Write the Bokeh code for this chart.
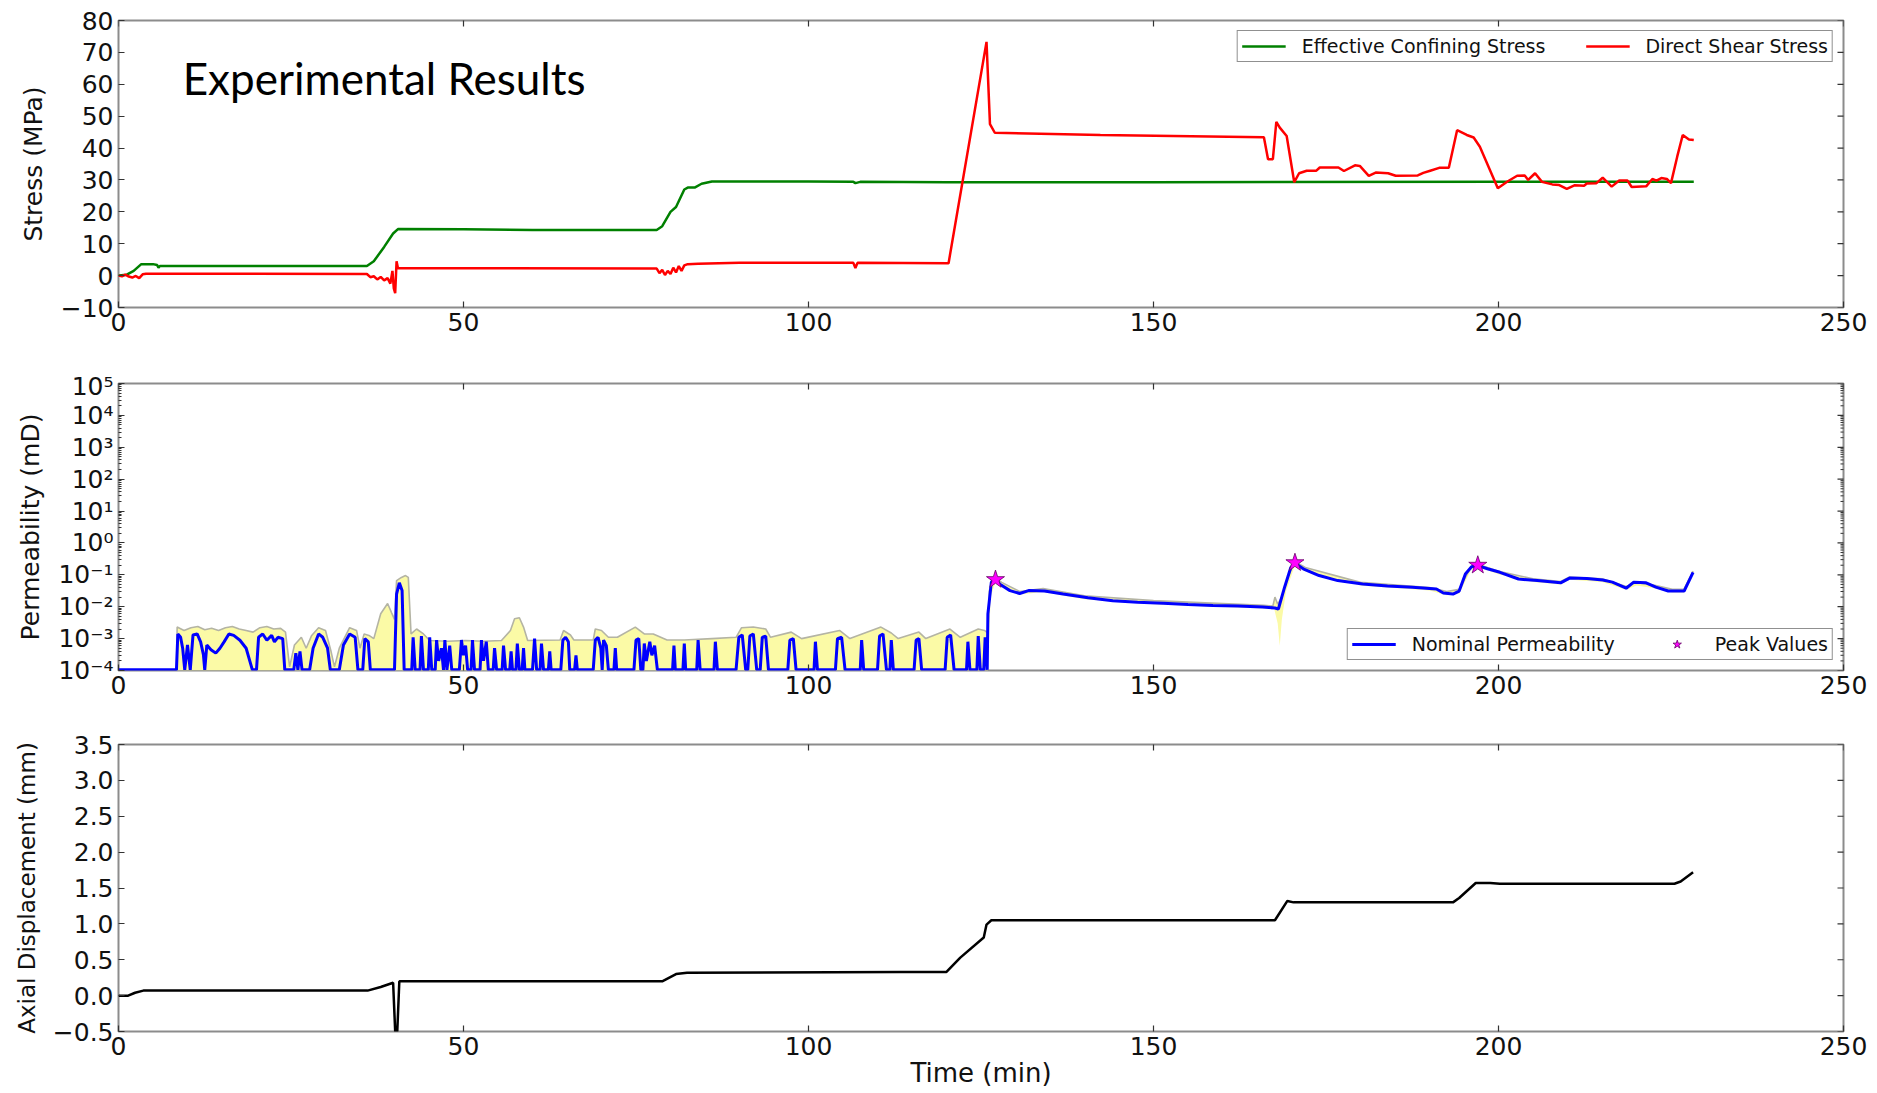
import math
from bokeh.plotting import figure
from bokeh.layouts import column
from bokeh.models import Range1d, Label, FixedTicker, CustomJSTickFormatter
from bokeh.embed import file_html
from bokeh.resources import INLINE

# ---------------- data ----------------
TIME_TICKS = [0, 50, 100, 150, 200, 250]
STRESS_TICKS = [-10, 0, 10, 20, 30, 40, 50, 60, 70, 80]
PERM_TICKS = [1e-4, 1e-3, 1e-2, 1e-1, 1e0, 1e1, 1e2, 1e3, 1e4, 1e5]
DISP_TICKS = [-0.5, 0.0, 0.5, 1.0, 1.5, 2.0, 2.5, 3.0, 3.5]

CONFINING = [(0, 0.0), (1.2, 0.3), (2.2, 1.5), (3.3, 3.6), (5.0, 3.6), (5.6, 3.3), (5.8, 2.5),
             (6.0, 3.0), (36.0, 3.0), (37.0, 4.5), (38.5, 9.0), (39.8, 13.2), (40.5, 14.6),
             (50, 14.5), (60, 14.3), (78.0, 14.3), (78.8, 15.5), (80.0, 20.0), (80.8, 21.5),
             (82.0, 27.0), (82.5, 27.6), (83.5, 27.6), (84.5, 28.8), (86.0, 29.5), (100, 29.5),
             (106.5, 29.4), (106.8, 29.0), (107.5, 29.4), (120, 29.3), (150, 29.3), (200, 29.4),
             (228.3, 29.4)]

SHEAR = [(0, 0.0), (0.5, -0.2), (1.0, 0.3), (1.5, -0.3), (2.0, -0.6), (2.5, -0.1), (3.0, -0.8),
         (3.5, 0.4), (4.0, 0.6), (36.0, 0.5), (36.5, -0.5), (37.0, -0.2), (37.5, -1.2), (38.0, -0.4),
         (38.5, -1.5), (39.0, -0.8), (39.4, -2.5), (39.7, 1.5), (39.9, -4.0), (40.1, -5.5),
         (40.3, 4.5), (40.5, 2.3), (50, 2.3), (78.0, 2.2), (78.4, 0.8), (78.8, 1.8), (79.2, 0.2),
         (79.6, 1.5), (80.0, 0.5), (80.4, 2.5), (80.8, 1.0), (81.2, 3.0), (81.6, 1.5), (82.0, 3.2),
         (82.5, 3.6), (84.0, 3.7), (90, 4.0), (106.5, 4.0), (106.8, 2.4), (107.1, 4.0),
         (120.3, 3.9), (125.8, 73.3), (126.3, 47.5), (127.0, 44.8), (142.3, 44.1), (166.0, 43.4),
         (166.6, 36.5), (167.3, 36.5), (167.8, 48.2), (168.3, 46.4), (169.3, 43.8), (170.4, 29.3),
         (171.1, 32.1), (172.2, 32.9), (173.6, 32.9), (174.1, 33.9), (176.8, 33.9), (177.6, 32.8),
         (179.2, 34.6), (179.9, 34.4), (181.2, 31.3), (182.2, 32.3), (184.0, 32.1), (185.1, 31.3),
         (188.3, 31.4), (189.1, 32.2), (190.1, 32.9), (191.4, 33.8), (192.8, 33.8), (194.0, 45.6),
         (195.4, 44.1), (196.4, 43.3), (197.3, 40.4), (199.9, 27.4), (201.3, 29.5), (202.7, 31.3),
         (203.8, 31.4), (204.3, 30.0), (205.3, 32.1), (206.3, 29.4), (207.8, 28.6), (208.8, 28.4),
         (209.9, 27.2), (211.0, 28.3), (212.4, 28.2), (212.8, 28.9), (214.2, 29.0), (215.1, 30.7),
         (216.4, 27.9), (217.5, 29.8), (218.7, 29.8), (219.3, 27.8), (221.4, 28.0), (222.3, 30.3),
         (222.9, 29.8), (223.6, 30.6), (224.4, 30.3), (225.0, 29.0), (225.9, 37.3), (226.7, 44.1),
         (227.6, 42.7), (228.3, 42.5)]

PERMEABILITY = [
    (0, 1.05e-4), (8.4, 1.05e-4), (8.6, 1.4e-3), (9.0, 1.1e-3), (9.3, 5e-4), (9.6, 1.05e-4),
    (10.0, 6.3e-4), (10.4, 1.05e-4), (10.8, 1.3e-3), (11.4, 1.4e-3), (11.9, 7.9e-4), (12.3, 3.2e-4),
    (12.5, 1.05e-4), (12.8, 6.3e-4), (13.4, 4.5e-4), (14.1, 3.5e-4), (14.7, 5e-4), (15.3, 7.9e-4),
    (16.0, 1.4e-3), (16.7, 1.26e-3), (17.6, 8.9e-4), (18.5, 5e-4), (18.9, 2.5e-4), (19.4, 1.05e-4),
    (20.0, 1.05e-4), (20.3, 1.1e-3), (20.9, 1.4e-3), (21.5, 8.9e-4), (22.2, 1.26e-3), (22.6, 7.9e-4),
    (23.1, 1.1e-3), (23.8, 1.0e-3), (24.1, 1.05e-4), (25.4, 1.05e-4), (25.7, 3.5e-4), (26.0, 1.05e-4),
    (26.3, 4e-4), (26.6, 1.05e-4), (27.7, 1.05e-4), (28.2, 5e-4), (29.0, 1.4e-3), (29.6, 1.1e-3),
    (30.3, 5e-4), (30.7, 1.05e-4), (32.0, 1.05e-4), (32.6, 6.3e-4), (33.5, 1.4e-3), (34.3, 1.1e-3),
    (34.7, 1.05e-4), (35.4, 1.05e-4), (35.7, 1.0e-3), (36.2, 7.9e-4), (36.5, 1.05e-4), (40.0, 1.05e-4),
    (40.3, 2.5e-2), (40.7, 5.6e-2), (41.1, 3.2e-2), (41.4, 1.05e-4), (42.5, 1.05e-4), (42.7, 1.1e-3),
    (43.0, 1.05e-4), (43.7, 1.05e-4), (43.9, 1.2e-3), (44.2, 1.05e-4), (44.9, 1.05e-4), (45.1, 1.1e-3),
    (45.4, 1.05e-4), (45.9, 1.05e-4), (46.1, 9e-4), (46.4, 2e-4), (46.8, 5e-4), (47.1, 1.05e-4),
    (47.3, 9e-4), (47.6, 1.05e-4), (48.0, 6e-4), (48.3, 1.05e-4), (49.4, 1.05e-4), (49.7, 9e-4),
    (50.0, 3e-4), (50.3, 6e-4), (50.6, 1.05e-4), (51.1, 1.05e-4), (51.3, 9e-4), (51.6, 1.05e-4),
    (52.4, 1.05e-4), (52.6, 9e-4), (52.9, 2e-4), (53.3, 8e-4), (53.6, 1.05e-4), (54.3, 1.05e-4),
    (54.5, 5e-4), (54.8, 1.05e-4), (55.6, 1.05e-4), (55.8, 6e-4), (56.1, 1.05e-4), (56.7, 1.05e-4),
    (56.9, 4e-4), (57.1, 1.05e-4), (57.6, 1.05e-4), (57.8, 7e-4), (58.1, 1.05e-4), (58.5, 1.05e-4),
    (58.7, 5e-4), (58.9, 1.05e-4), (60.0, 1.05e-4), (60.3, 1.0e-3), (60.6, 1.05e-4), (61.1, 1.05e-4),
    (61.3, 7e-4), (61.6, 1.05e-4), (62.3, 1.05e-4), (62.5, 4e-4), (62.7, 1.05e-4), (64.1, 1.05e-4),
    (64.4, 9e-4), (64.8, 1.1e-3), (65.2, 8e-4), (65.4, 1.05e-4), (66.1, 1.05e-4), (66.3, 3e-4),
    (66.5, 1.05e-4), (68.8, 1.05e-4), (69.1, 9e-4), (69.5, 1.1e-3), (69.9, 5e-4), (70.1, 1.05e-4),
    (70.3, 9e-4), (70.7, 6e-4), (71.0, 1.05e-4), (71.8, 1.05e-4), (72.0, 5e-4), (72.2, 1.05e-4),
    (74.7, 1.05e-4), (75.0, 9e-4), (75.4, 1.0e-3), (75.7, 1.05e-4), (76.0, 1.05e-4), (76.2, 7e-4),
    (76.5, 2e-4), (77.0, 8e-4), (77.3, 3e-4), (77.7, 6e-4), (78.1, 1.05e-4), (80.3, 1.05e-4),
    (80.5, 6e-4), (80.7, 1.05e-4), (81.8, 1.05e-4), (82.0, 7e-4), (82.2, 1.05e-4), (83.8, 1.05e-4),
    (84.0, 9e-4), (84.3, 1.05e-4), (86.3, 1.05e-4), (86.5, 8e-4), (86.8, 1.05e-4), (89.5, 1.05e-4),
    (89.9, 1.1e-3), (90.4, 1.3e-3), (90.9, 1.05e-4), (91.2, 1.05e-4), (91.5, 1.2e-3), (92.0, 1.4e-3),
    (92.5, 1.05e-4), (93.0, 1.05e-4), (93.3, 1.1e-3), (93.8, 1.2e-3), (94.2, 1.05e-4), (97.0, 1.05e-4),
    (97.3, 9e-4), (97.8, 1.0e-3), (98.2, 1.05e-4), (100.8, 1.05e-4), (101.0, 8e-4), (101.3, 1.05e-4),
    (103.9, 1.05e-4), (104.2, 1.0e-3), (104.8, 1.1e-3), (105.3, 1.05e-4), (107.5, 1.05e-4),
    (107.7, 9e-4), (108.0, 1.05e-4), (110.0, 1.05e-4), (110.3, 1.2e-3), (110.8, 1.4e-3),
    (111.3, 1.05e-4), (111.8, 1.05e-4), (112.0, 9e-4), (112.3, 1.05e-4), (115.3, 1.05e-4),
    (115.6, 9e-4), (116.0, 1.0e-3), (116.4, 1.05e-4), (119.8, 1.05e-4), (120.1, 1.1e-3),
    (120.6, 1.3e-3), (121.1, 1.05e-4), (122.9, 1.05e-4), (123.1, 8e-4), (123.4, 1.05e-4),
    (124.4, 1.05e-4), (124.6, 1.2e-3), (124.9, 1.05e-4), (125.4, 1.05e-4), (125.6, 1.1e-3),
    (125.9, 1.05e-4), (126.0, 6e-3), (126.5, 0.059), (127.1, 0.071), (127.8, 0.05), (129.2, 0.032),
    (130.6, 0.026), (131.9, 0.032), (134.2, 0.031), (136.9, 0.025), (140.5, 0.019), (144.1, 0.0155),
    (147.7, 0.0138), (151.4, 0.0129), (155.0, 0.0117), (158.6, 0.011), (162.2, 0.0105),
    (165.8, 0.0098), (167.6, 0.0091), (168.1, 0.0085), (169.0, 0.041), (169.9, 0.17), (170.5, 0.23),
    (171.7, 0.155), (174.0, 0.095), (176.7, 0.066), (180.3, 0.052), (183.9, 0.045), (187.5, 0.041),
    (191.0, 0.036), (192.0, 0.027), (193.4, 0.025), (194.3, 0.031), (195.2, 0.107), (196.1, 0.18),
    (197.0, 0.195), (198.4, 0.155), (200.2, 0.12), (202.9, 0.074), (205.6, 0.066), (209.0, 0.056),
    (210.3, 0.079), (212.8, 0.077), (215.1, 0.069), (216.5, 0.059), (218.5, 0.038), (219.6, 0.059),
    (221.4, 0.056), (222.8, 0.041), (224.6, 0.031), (226.9, 0.031), (228.2, 0.12)]

BAND_UPPER = [
    (8.4, 1.0e-4), (8.5, 2.3e-3), (9.5, 1.8e-3), (10.5, 2.2e-3), (11.5, 2.4e-3), (12.5, 1.9e-3),
    (13.5, 2.1e-3), (14.5, 1.8e-3), (15.5, 2.2e-3), (16.5, 2.4e-3), (17.5, 2.0e-3), (18.5, 1.8e-3),
    (19.5, 1.6e-3), (20.5, 2.2e-3), (21.5, 2.4e-3), (22.5, 2.0e-3), (23.5, 2.1e-3), (24.2, 1.6e-3),
    (24.8, 1.3e-4), (25.5, 6.3e-4), (26.5, 1.1e-3), (27.2, 5e-4), (28.0, 1.26e-3), (29.0, 2.2e-3),
    (30.0, 1.8e-3), (30.8, 4e-4), (31.3, 1.3e-4), (32.0, 5e-4), (33.5, 2.2e-3), (34.5, 1.8e-3),
    (35.0, 5e-4), (35.6, 1.4e-3), (36.3, 1.26e-3), (37.0, 1.0e-3), (38.0, 6.0e-3), (39.0, 1.26e-2),
    (39.6, 6.3e-3), (40.0, 4e-3), (40.3, 6.6e-2), (41.0, 8.3e-2), (41.6, 9.5e-2), (42.0, 8.3e-2),
    (42.4, 1.4e-3), (43.2, 2.0e-3), (44.2, 1.4e-3), (45.1, 8.7e-4), (47.7, 8.3e-4), (50.3, 8.7e-4),
    (52.9, 8.3e-4), (55.5, 8.7e-4), (56.8, 1.8e-3), (57.4, 4.2e-3), (58.1, 4.5e-3), (58.7, 2.3e-3),
    (59.3, 8.7e-4), (64.0, 9e-4), (64.5, 1.8e-3), (65.5, 1.3e-3), (66.0, 9e-4), (68.8, 9e-4),
    (69.1, 2.0e-3), (70.0, 1.8e-3), (71.0, 1.1e-3), (72.3, 1.1e-3), (74.9, 2.3e-3), (76.2, 1.4e-3),
    (77.5, 1.4e-3), (79.5, 9e-4), (82.0, 9e-4), (86.0, 1.0e-3), (89.5, 1.1e-3), (90.3, 2.2e-3),
    (92.0, 2.3e-3), (93.8, 2.0e-3), (94.5, 1.1e-3), (97.5, 1.6e-3), (99.0, 1.0e-3), (104.5, 1.8e-3),
    (106.0, 1.0e-3), (110.5, 2.3e-3), (112.0, 1.5e-3), (113.0, 1.0e-3), (116.0, 1.6e-3),
    (117.0, 1.0e-3), (120.5, 2.0e-3), (122.0, 1.1e-3), (124.6, 2.0e-3), (125.5, 1.8e-3),
    (126.0, 1.5e-3), (126.2, 0.03), (126.6, 0.075), (127.1, 0.08), (128.0, 0.058), (130.6, 0.03),
    (134.0, 0.037), (140.0, 0.022), (150.0, 0.0155), (160.0, 0.0125), (166.0, 0.011),
    (167.3, 0.0105), (167.6, 0.02), (168.0, 0.012), (168.6, 0.02), (169.5, 0.09), (170.5, 0.26),
    (172.0, 0.17), (180.0, 0.058), (190.0, 0.04), (192.5, 0.03), (194.3, 0.035), (196.0, 0.18),
    (197.0, 0.215), (200.0, 0.13), (205.0, 0.075), (209.0, 0.062), (210.3, 0.085), (215.0, 0.075),
    (218.5, 0.043), (220.0, 0.058), (222.8, 0.046), (225.2, 0.035), (226.9, 0.036), (228.2, 0.13)]

BAND_LOWER = [
    (8.4, 1.0e-4), (126.0, 1.0e-4), (126.4, 0.02), (127.1, 0.06), (128.0, 0.045), (130.6, 0.024),
    (134.0, 0.029), (140.0, 0.017), (150.0, 0.012), (160.0, 0.0098), (166.0, 0.0088),
    (167.5, 0.0085), (168.0, 0.003), (168.3, 6e-4), (168.6, 0.004), (169.2, 0.03), (170.5, 0.2),
    (172.0, 0.13), (180.0, 0.046), (190.0, 0.032), (192.5, 0.023), (194.3, 0.026), (196.0, 0.14),
    (197.0, 0.18), (200.0, 0.105), (205.0, 0.06), (209.0, 0.05), (210.3, 0.07), (215.0, 0.06),
    (218.5, 0.034), (220.0, 0.046), (222.8, 0.037), (225.2, 0.028), (226.9, 0.028), (228.2, 0.10)]

PEAK_T = [127.1, 170.5, 197.0]
PEAK_K = [0.071, 0.24, 0.20]

DISPLACEMENT = [(0, 0.0), (1.4, 0.0), (2.4, 0.04), (3.6, 0.07), (36.1, 0.07), (38.0, 0.12),
                (39.8, 0.18), (40.1, -0.5), (40.4, -0.5), (40.7, 0.20), (78.8, 0.20), (80.8, 0.30),
                (82.4, 0.32), (113.4, 0.33), (120.0, 0.33), (122.0, 0.53), (125.4, 0.81),
                (125.8, 0.99), (126.5, 1.05), (167.6, 1.05), (169.4, 1.32), (170.3, 1.30),
                (193.4, 1.30), (194.3, 1.36), (196.7, 1.57), (198.8, 1.57), (200.2, 1.56),
                (225.5, 1.56), (226.4, 1.59), (228.2, 1.72)]

# ---------------- styling ----------------
FONT = "DejaVu Sans"
TICK_SIZE = "25px"
FRAME_W = 1725
FRAME_H = 287
TICK_COLOR = "#333333"


def unzip(points):
    return [a for a, _ in points], [b for _, b in points]


def style_axis(ax):
    ax.axis_line_color = None
    ax.major_tick_in = 6
    ax.major_tick_out = 0
    ax.minor_tick_in = 3
    ax.minor_tick_out = 0
    ax.major_tick_line_color = TICK_COLOR
    ax.minor_tick_line_color = TICK_COLOR
    ax.major_tick_line_width = 1.2
    ax.major_label_text_font = FONT
    ax.major_label_text_font_size = TICK_SIZE
    ax.major_label_text_color = "#111111"
    ax.major_label_standoff = 5
    ax.axis_label_text_font = FONT
    ax.axis_label_text_font_size = "25px"
    ax.axis_label_text_font_style = "normal"
    ax.axis_label_text_color = "#111111"
    ax.axis_label_standoff = 10


def fmt(decimals):
    return CustomJSTickFormatter(code="""
        const s = Math.abs(tick).toFixed(%d);
        return (tick < 0 ? '\\u2212' : '') + s;
    """ % decimals)


LOG_FMT = CustomJSTickFormatter(code="""
    const e = Math.round(Math.log10(tick));
    const sup = {'-': '\\u207b', '0': '\\u2070', '1': '\\u00b9', '2': '\\u00b2', '3': '\\u00b3',
                 '4': '\\u2074', '5': '\\u2075', '6': '\\u2076', '7': '\\u2077', '8': '\\u2078',
                 '9': '\\u2079'};
    return '10' + String(e).split('').map(c => sup[c]).join('');
""")


def make_panel(y_range, y_type, y_ticks, y_minor, y_fmt, y_label, x_label, top, bottom):
    p = figure(frame_width=FRAME_W, frame_height=FRAME_H, x_range=Range1d(0, 250),
               y_range=y_range, y_axis_type=y_type, output_backend="svg",
               toolbar_location=None, min_border_left=118, min_border_right=30,
               min_border_top=top, min_border_bottom=bottom,
               background_fill_color="white", border_fill_color="white")
    p.grid.visible = False
    p.outline_line_color = "#8c8c8c"
    p.outline_line_width = 2

    xa = p.xaxis[0]
    xa.ticker = FixedTicker(ticks=TIME_TICKS)
    xa.formatter = fmt(0)
    style_axis(xa)
    xa.axis_label = x_label
    xa.axis_label_standoff = 0
    xa.axis_label_text_font_size = "26px"

    ya = p.yaxis[0]
    ya.ticker = FixedTicker(ticks=y_ticks, minor_ticks=y_minor)
    ya.formatter = y_fmt
    style_axis(ya)
    ya.axis_label = y_label

    # mirrored inward ticks on the top and right edges of the frame
    y_top = y_range.end
    p.scatter(TIME_TICKS, [y_top] * len(TIME_TICKS), marker="dash", angle=math.pi / 2,
              size=12, line_color=TICK_COLOR, line_width=1.2)
    p.scatter([250] * len(y_ticks), y_ticks, marker="dash", size=12,
              line_color=TICK_COLOR, line_width=1.2)
    if y_minor:
        p.scatter([250] * len(y_minor), y_minor, marker="dash", size=6,
                  line_color=TICK_COLOR, line_width=1.0)
    return p


def style_legend(lg):
    lg.orientation = "horizontal"
    lg.label_text_font = FONT
    lg.label_text_font_size = "19px"
    lg.label_text_color = "#111111"
    lg.glyph_width = 44
    lg.glyph_height = 22
    lg.label_standoff = 16
    lg.spacing = 40
    lg.padding = 4
    lg.margin = 10
    lg.border_line_color = "#222222"
    lg.border_line_width = 1.5
    lg.background_fill_color = "white"
    lg.background_fill_alpha = 1.0


# ---------------- panel 1 : stress ----------------
p1 = make_panel(Range1d(-10, 80), "linear", STRESS_TICKS, [], fmt(0), "Stress (MPa)", "",
                top=20, bottom=64)
cx, cy = unzip(CONFINING)
sx, sy = unzip(SHEAR)
p1.line(cx, cy, line_color="#008000", line_width=2.5, legend_label="Effective Confining Stress")
p1.line(sx, sy, line_color="#ff0000", line_width=2.5, legend_label="Direct Shear Stress")
p1.legend.location = "top_right"
style_legend(p1.legend[0])
p1.add_layout(Label(x=9.3, y=62.1, text="Experimental Results", text_font="Lato",
                    text_font_size="44px", text_color="black", text_baseline="alphabetic"))

# ---------------- panel 2 : permeability ----------------
minor_log = [m * 10.0 ** e for e in range(-4, 5) for m in range(2, 10)]
p2 = make_panel(Range1d(1e-4, 1e5), "log", PERM_TICKS, minor_log, LOG_FMT,
                "Permeability (mD)", "", top=12, bottom=62)
ux, uy = unzip(BAND_UPPER)
lx, ly = unzip(BAND_LOWER)
p2.patch(ux + lx[::-1], uy + ly[::-1], fill_color="#fbfaa6", fill_alpha=1.0, line_color=None)
p2.line(ux, uy, line_color="#b4b4a4", line_width=1.6)
kx, ky = unzip(PERMEABILITY)
p2.line(kx, ky, line_color="#0000ff", line_width=3, legend_label="Nominal Permeability")
p2.scatter(PEAK_T, PEAK_K, marker="star", size=19, fill_color="#ff00ff", line_color="#660066",
           line_width=0.8, legend_label="Peak Values")
p2.legend.location = "bottom_right"
style_legend(p2.legend[0])

# ---------------- panel 3 : displacement ----------------
p3 = make_panel(Range1d(-0.5, 3.5), "linear", DISP_TICKS, [], fmt(1),
                "Axial Displacement (mm)", "Time (min)", top=12, bottom=60)
p3.yaxis[0].axis_label_text_font_size = "23px"
dx, dy = unzip(DISPLACEMENT)
p3.line(dx, dy, line_color="#000000", line_width=2.5)

layout = column(p1, p2, p3, spacing=0)
open("out.html", "w").write(file_html(layout, INLINE))
